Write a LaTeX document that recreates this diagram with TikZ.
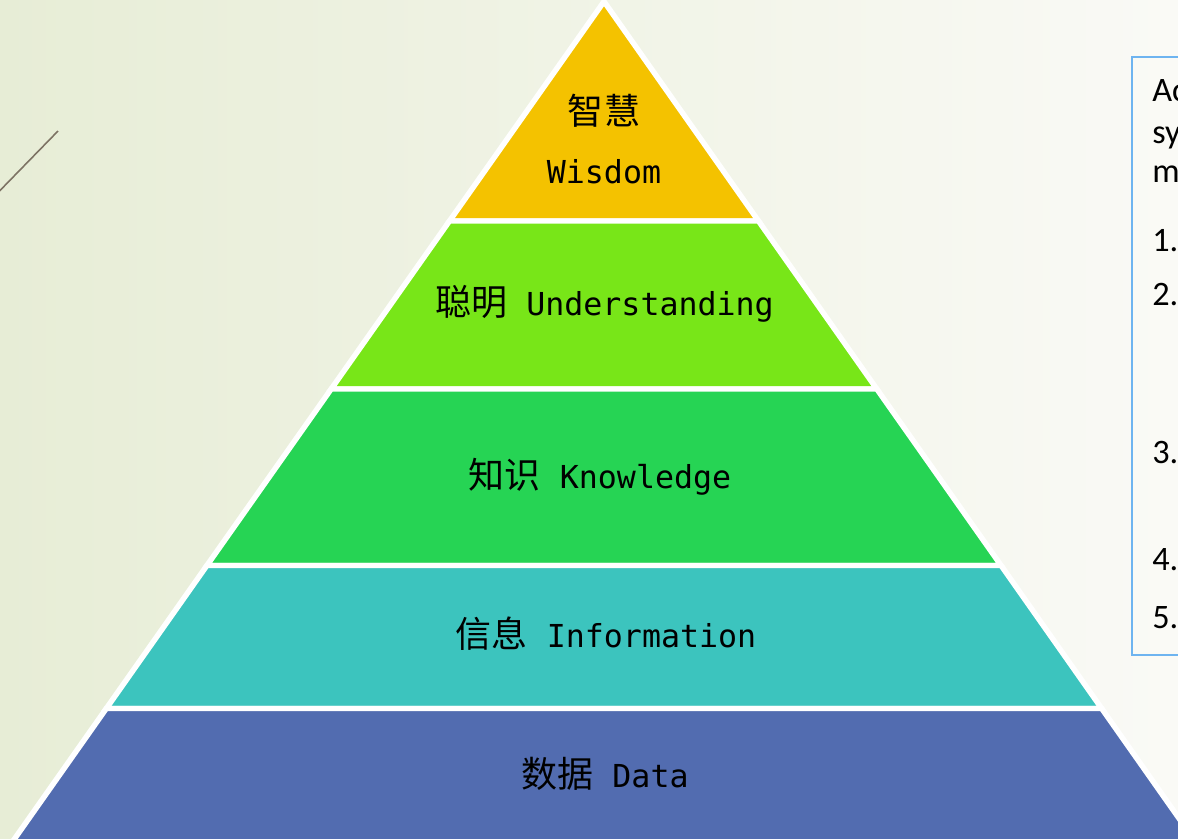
\documentclass[tikz,border=0pt]{standalone}
\usepackage{fontspec}
\setmainfont{Carlito}
\setmonofont{DejaVu Sans Mono}
\newfontfamily\cjk{Noto Sans CJK SC}
\definecolor{wisdomfill}{HTML}{F4C200}
\definecolor{understandfill}{HTML}{78E618}
\definecolor{knowfill}{HTML}{26D454}
\definecolor{infofill}{HTML}{3CC4BE}
\definecolor{datafill}{HTML}{526CB0}
\definecolor{boxline}{HTML}{6EB4F0}
\definecolor{deco}{HTML}{7D7364}
\definecolor{bgleft}{RGB}{231,237,214}
\definecolor{bgmid}{RGB}{243,245,234}
\definecolor{bgright}{RGB}{250,250,246}
\def\zh{\cjk\fontsize{20.5}{24}\selectfont}
\def\en{\ttfamily\fontsize{18}{21}\selectfont}
\tikzset{band/.style={draw=white,line width=3.1pt,line join=miter}}
\tikzset{lbl/.style={inner sep=0pt,anchor=base,text=black}}
\tikzset{boxtxt/.style={inner sep=0pt,anchor=base west,text=black,font=\fontsize{19.5}{23}\selectfont}}
\begin{document}
\begin{tikzpicture}[x=0.02cm,y=-0.02cm]
  \clip (0,0) rectangle (1178,839);
  \shade[left color=bgleft,middle color=bgmid,right color=bgright] (0,0) rectangle (1178,839);
  \draw[deco,line width=0.9pt] (-20,211) -- (58,131);
  % pyramid, top to bottom
  \filldraw[band,fill=wisdomfill] (604,1.5) -- (758.5,221) -- (449.5,221) -- cycle;
  \filldraw[band,fill=understandfill] (449.5,221) -- (758.5,221) -- (876.8,389) -- (331.2,389) -- cycle;
  \filldraw[band,fill=knowfill] (331.2,389) -- (876.8,389) -- (1001.1,565.5) -- (206.9,565.5) -- cycle;
  \filldraw[band,fill=infofill] (206.9,565.5) -- (1001.1,565.5) -- (1101.7,708.5) -- (106.3,708.5) -- cycle;
  \filldraw[band,fill=datafill] (106.3,708.5) -- (1101.7,708.5) -- (1201.3,850) -- (6.7,850) -- cycle;
  \node[lbl] (wisdomzh) at (604,124) {\zh 智慧};
  \node[lbl] (wisdom) at (604,183) {\en Wisdom};
  \node[lbl] (understanding) at (604.5,315) {{\zh 聪明}{\en\ Understanding}};
  \node[lbl] (knowledge) at (600,488) {{\zh 知识}{\en\ Knowledge}};
  \node[lbl] (information) at (606,647) {{\zh 信息}{\en\ Information}};
  \node[lbl] (data) at (605,787) {{\zh 数据}{\en\ Data}};
  % text box on the right
  \draw[boxline,line width=0.85pt] (1132,57) rectangle (1200,655);
  \node[boxtxt] (introa) at (1152,101) {Ac};
  \node[boxtxt] (introb) at (1152,143) {sy};
  \node[boxtxt] (introc) at (1152,182) {m};
  \node[boxtxt] (item1) at (1152,251) {1.};
  \node[boxtxt] (item2) at (1152,305) {2.};
  \node[boxtxt] (item3) at (1152,463) {3.};
  \node[boxtxt] (item4) at (1152,570) {4.};
  \node[boxtxt] (item5) at (1152,628) {5.};
\end{tikzpicture}
\end{document}
